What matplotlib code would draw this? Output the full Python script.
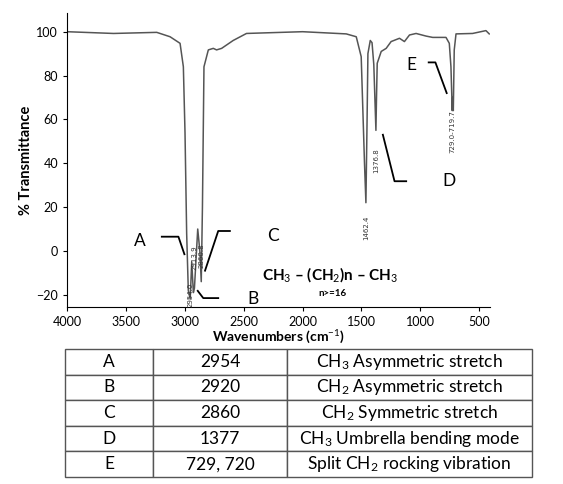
import matplotlib.pyplot as plt
import numpy as np

plt.rcParams['font.family'] = ['Lato', 'DejaVu Sans']
plt.rcParams['mathtext.fontset'] = 'custom'
plt.rcParams['mathtext.rm'] = 'Lato'
plt.rcParams['mathtext.it'] = 'Lato:italic'
plt.rcParams['mathtext.bf'] = 'Lato:bold'

# IR spectrum of a long chain alkane
wavenumber = [4000, 3605, 3238, 3125, 3040, 3012, 2998, 2984, 2970, 2954, 2941,
              2927, 2918, 2890, 2872, 2860, 2850, 2837, 2800, 2758, 2730, 2687,
              2589, 2476, 2300, 2000, 1629, 1544, 1502, 1474, 1462, 1452, 1445,
              1425, 1410, 1395, 1377, 1372, 1366, 1332, 1290, 1248, 1177, 1135,
              1092, 1036, 951, 895, 782, 754, 740, 729, 725, 720, 712, 697, 556,
              443, 415]
transmittance = [100, 99.2, 99.7, 97.7, 94.7, 84, 54, 8, -18, -22, -5,
                 -19, -17, 10, 0, -14, 20, 84, 91.7, 92.4, 91.7, 92.4,
                 96, 99.2, 99.5, 100, 99, 97.7, 88.6, 40, 22, 60, 90,
                 96, 95, 85, 55, 70, 85.6, 91, 92.4, 95.5, 97, 95.5,
                 98.5, 99.2, 98, 97.4, 97.4, 94.7, 84, 64, 70, 64, 91.7, 99, 99.2,
                 100.5, 99]

peak_labels = ['2954.0', '2913.9', '2860.8', '1462.4', '1376.8', '729.0-719.7']
peak_x = [2954, 2915, 2860, 1462, 1377, 725]
peak_y = [-20, -3, -2, 10.6, 41, 54.5]

letters = ['A', 'B', 'C', 'D', 'E']
letter_x = [3379, 2419, 2250, 754, 1078]
letter_y = [4.5, -22, 7, 31.8, 84.8]
bracket_x = [[3195, 3054, 3003], [2890, 2843, 2716], [2617, 2716, 2828],
             [1318, 1219, 1120], [929, 872, 776]]
bracket_y = [[6.5, 6.5, -1.5], [-18.2, -21.5, -21.5], [9.1, 9.1, -9],
             [53, 31.8, 31.8], [86, 86, 72]]

table_rows = [['A', '2954', 'CH$_3$ Asymmetric stretch'],
              ['B', '2920', 'CH$_2$ Asymmetric stretch'],
              ['C', '2860', 'CH$_2$ Symmetric stretch'],
              ['D', '1377', 'CH$_3$ Umbrella bending mode'],
              ['E', '729, 720', 'Split CH$_2$ rocking vibration']]

fig = plt.figure(figsize=(5.63, 4.84), dpi=100)
ax = fig.add_axes([0.119, 0.366, 0.751, 0.607])

ax.plot(wavenumber, transmittance, color='#555555', lw=1.1)
ax.set_xlim(4000, 410)
ax.set_ylim(-25.5, 108.5)
ax.set_xticks([4000, 3500, 3000, 2500, 2000, 1500, 1000, 500])
ax.set_yticks([100, 80, 60, 40, 20, 0, -20])
ax.tick_params(labelsize=9, length=3)
for s in ['top', 'right']:
    ax.spines[s].set_visible(False)
ax.set_ylabel('% Transmittance', fontsize=10.5, fontweight='bold', labelpad=2)
ax.set_xlabel('Wavenumbers (cm$^{-1}$)', fontsize=10, fontweight='bold', labelpad=1)

for lab, x, y in zip(peak_labels, peak_x, peak_y):
    ax.text(x, y, lab, rotation=90, fontsize=5, ha='center', va='center',
            family='DejaVu Sans', color='#333333', clip_on=False)

for lab, x, y in zip(letters, letter_x, letter_y):
    ax.text(x, y, lab, fontsize=12.5, ha='center', va='center')
for bx, by in zip(bracket_x, bracket_y):
    ax.plot(bx, by, color='black', lw=1.3, clip_on=False)

ax.text(1770, -11, 'CH$_3$ – (CH$_2$)n – CH$_3$', fontsize=11, fontweight='bold',
        ha='center', va='center')
ax.text(1742, -19.2, 'n>=16', fontsize=7, fontweight='bold', ha='center', va='center')

tax = fig.add_axes([0.1155, 0.0145, 0.8295, 0.2645])
tax.axis('off')
tbl = tax.table(cellText=table_rows, colWidths=[0.188, 0.288, 0.525],
                cellLoc='center', bbox=[0, 0, 1, 1])
tbl.auto_set_font_size(False)
tbl.set_fontsize(12.5)
for cell in tbl.get_celld().values():
    cell.set_edgecolor('#555555')
    cell.set_linewidth(1)

fig.savefig('out.png', dpi=100)
